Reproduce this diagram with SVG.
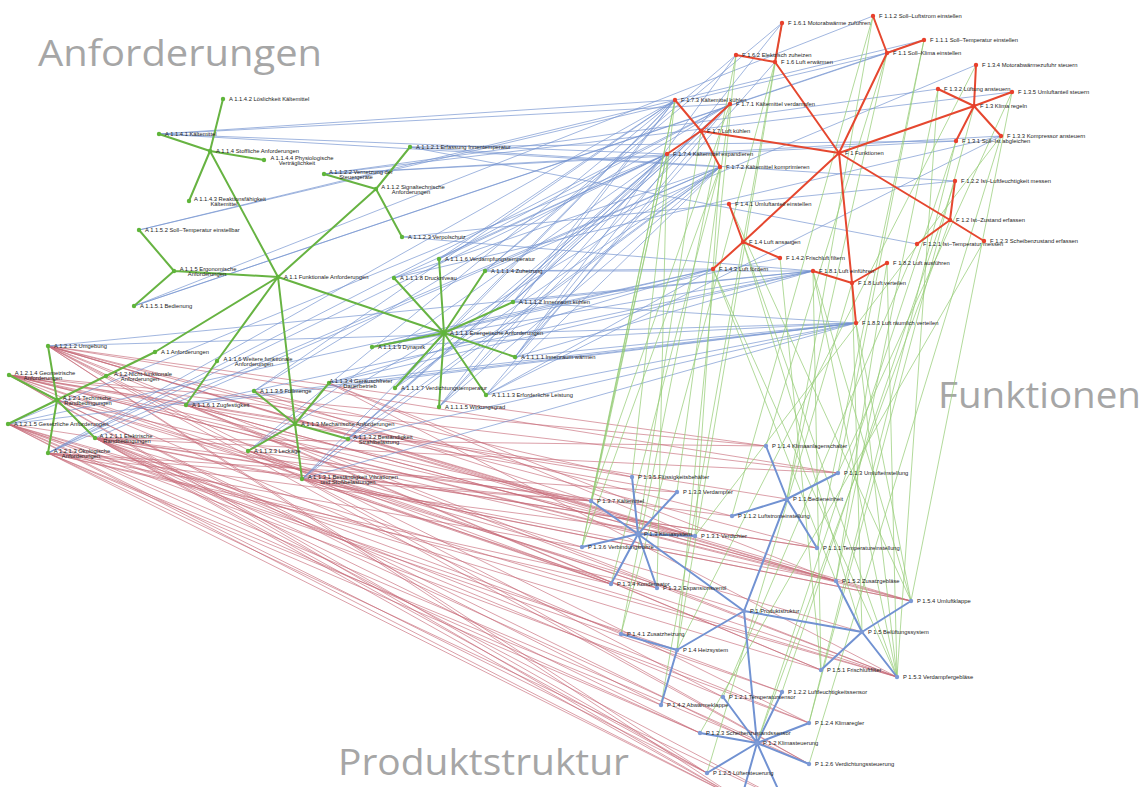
<svg xmlns="http://www.w3.org/2000/svg" width="1148" height="787" viewBox="0 0 1148 787">
<style>
text{font-family:"Liberation Sans",Arial,sans-serif;font-size:5.8px;fill:#222222}
.big{font-family:"Open Sans","Liberation Sans",sans-serif;font-size:37px;fill:#a6a6a6}
.cb{stroke:#7393cf;stroke-width:0.8;fill:none;stroke-opacity:0.85}
.cg{stroke:#94cb74;stroke-width:0.8;fill:none;stroke-opacity:0.9}
.cr{stroke:#c66a78;stroke-width:0.75;fill:none;stroke-opacity:0.85}
.ta{stroke:#67b342;stroke-width:2;fill:none}
.tf{stroke:#e5472f;stroke-width:2;fill:none}
.tp{stroke:#7192d2;stroke-width:2;fill:none}
.na circle{fill:#5fb53a}
.nf circle{fill:#e8402c}
.np circle{fill:#7d9ad6}
.m{text-anchor:middle}
</style>
<rect width="1148" height="787" fill="#ffffff"/>
<text class="big" x="38" y="66" textLength="284" lengthAdjust="spacingAndGlyphs">Anforderungen</text>
<text class="big" x="938" y="408" textLength="203" lengthAdjust="spacingAndGlyphs">Funktionen</text>
<text class="big" x="338" y="775" textLength="291" lengthAdjust="spacingAndGlyphs">Produktstruktur</text>
<g id="connectors">
<path class="cr" d="M48 346L766 446M48 346L838 473M48 346L817 548M48 346L732 516M48 346L695 536M48 346L836 581M48 346L911 601M48 346L897 677M48 346L821 670M48 346L809 723M48 346L809 764M48 346L723 697M48 346L741 800M48 346L707 773
M9 375L766 446M9 375L838 473M9 375L591 501M9 375L695 536M9 375L677 492M9 375L632 477M9 375L611 584M9 375L657 588M9 375L836 581M9 375L911 601M9 375L661 705M9 375L621 634M9 375L787 499M9 375L741 800M9 375L707 773
M8 424L817 548M8 424L821 670M8 424L897 677M8 424L809 723M8 424L809 764M8 424L707 773M8 424L700 733M8 424L677 650M8 424L741 800M8 424L782 692
M48 453L591 501M48 453L582 547M48 453L611 584M48 453L657 588M48 453L695 536M48 453L677 492M48 453L661 705M48 453L741 800M48 453L783 800M48 453L700 733
M95 438L817 548M95 438L732 516M95 438L838 473M95 438L766 446M95 438L723 697M95 438L782 692M95 438L809 723M95 438L809 764M95 438L707 773M95 438L700 733M95 438L911 601M95 438L836 581M95 438L897 677M95 438L783 800M95 438L741 800
M57 400L638 534M57 400L862 632M57 400L744 611M57 400L757 743
M186 405L821 670M186 405L897 677M186 405L911 601M186 405L836 581
M302 479L591 501M302 479L611 584M302 479L897 677M302 479L809 764M302 479L911 601
M248 451L591 501M248 451L582 547M248 451L657 588M248 451L611 584
M254 391L591 501M254 391L632 477
M329 383L695 536M329 383L897 677M329 383L836 581
M348 439L695 536M348 439L836 581"/>
<path class="cb" d="M159 134L675 100M159 134L730 104M159 134L667 154M159 134L720 167
M410 147L917 244M410 147L956 141M410 147L955 181
M324 174L956 141M324 174L1001 136M324 174L938 89M324 174L1012 92
M402 237L955 181M402 237L813 271
M134 306L887 53M134 306L924 40M134 306L873 16
M139 230L924 40M139 230L887 53
M515 357L775 62M515 357L782 23M515 357L736 55M515 357L856 323M515 357L813 271
M513 302L701 131M513 302L675 100M513 302L667 154M513 302L730 104M513 302L856 323M513 302L813 271
M486 395L720 167M486 395L730 104M486 395L1001 136M486 395L856 323M486 395L713 269
M485 271L736 55M485 271L782 23M485 271L976 65M485 271L813 271M485 271L713 269
M439 407L720 167M439 407L667 154M439 407L730 104M439 407L675 100
M439 259L730 104M439 259L675 100M439 259L667 154
M395 388L720 167M395 388L667 154M395 388L675 100
M394 278L720 167M394 278L667 154M394 278L1001 136
M372 347L713 269M372 347L856 323M372 347L813 271M372 347L780 258
M302 479L675 100M302 479L667 154M302 479L720 167M302 479L730 104M302 479L856 323
M348 439L667 154M348 439L720 167M348 439L856 323
M248 451L675 100M248 451L667 154M248 451L720 167
M329 383L713 269M329 383L856 323M329 383L813 271
M254 391L675 100M254 391L730 104
M186 405L856 323M186 405L813 271
M48 453L675 100M48 453L667 154M48 453L730 104M48 453L720 167
M8 424L713 269M8 424L856 323M8 424L667 154
M48 346L813 271M48 346L856 323
M95 438L720 167"/>
<path class="cg" d="M675 100L591 501M675 100L582 547M675 100L632 477
M667 154L657 588M667 154L591 501M667 154L582 547
M730 104L677 492M730 104L591 501
M720 167L695 536M720 167L611 584M720 167L582 547
M701 131L638 534
M736 55L621 634M736 55L677 650
M782 23L661 705M782 23L677 650
M775 62L621 634
M873 16L732 516M873 16L787 499
M924 40L817 548M924 40L838 473
M887 53L766 446M887 53L787 499
M956 141L809 723M956 141L757 743
M938 89L897 677M938 89L836 581
M1001 136L809 764M1001 136L695 536
M976 65L677 650
M1012 92L911 601M1012 92L838 473
M974 106L809 723
M917 244L723 697
M955 181L782 692
M984 241L700 733
M950 220L757 743
M729 204L911 601
M780 258L821 670
M713 269L897 677M713 269L836 581
M743 242L862 632M743 242L897 677
M813 271L897 677M813 271L911 601M813 271L821 670
M887 263L836 581M887 263L897 677
M856 323L897 677M856 323L911 601
M852 283L707 773M852 283L862 632"/>
</g>
<g id="tree-edges">
<path class="ta" d="M155 352L278 277M155 352L106 376M106 376L57 400
M57 400L95 438M57 400L48 346M57 400L48 453M57 400L9 375M57 400L8 424
M278 277L444 333M278 277L376 189M278 277L295 424M278 277L210 151M278 277L174 271M278 277L217 361
M217 361L186 405M174 271L134 306M174 271L139 230
M210 151L159 134M210 151L223 99M210 151L189 201M210 151L264 160
M376 189L410 147M376 189L324 174M376 189L402 237
M444 333L515 357M444 333L513 302M444 333L486 395M444 333L485 271M444 333L439 407M444 333L439 259M444 333L395 388M444 333L394 278M444 333L372 347
M295 424L302 479M295 424L348 439M295 424L248 451M295 424L329 383M295 424L254 391"/>
<path class="tf" d="M839 153L887 53M839 153L950 220M839 153L974 106M839 153L743 242M839 153L775 62M839 153L701 131M839 153L852 283
M887 53L924 40M887 53L873 16
M950 220L917 244M950 220L955 181M950 220L984 241
M974 106L956 141M974 106L938 89M974 106L1001 136M974 106L976 65M974 106L1012 92
M743 242L729 204M743 242L780 258M743 242L713 269
M775 62L782 23M775 62L736 55
M701 131L730 104M701 131L720 167M701 131L675 100M701 131L667 154
M852 283L813 271M852 283L887 263M852 283L856 323"/>
<path class="tp" d="M744 611L787 499M744 611L757 743M744 611L638 534M744 611L677 650M744 611L862 632
M787 499L817 548M787 499L732 516M787 499L838 473M787 499L766 446
M757 743L723 697M757 743L782 692M757 743L700 733M757 743L809 723M757 743L707 773M757 743L809 764M757 743L741 800M757 743L783 800
M638 534L695 536M638 534L657 588M638 534L677 492M638 534L611 584M638 534L632 477M638 534L582 547M638 534L591 501
M677 650L621 634M677 650L661 705
M862 632L821 670M862 632L836 581M862 632L897 677M862 632L911 601"/>
</g>
<g id="anforderungen">
<g id="a1" class="na"><circle cx="155" cy="352" r="2.2"/><text x="161" y="354">A 1 Anforderungen</text></g>
<g id="a11" class="na"><circle cx="278" cy="277" r="2.2"/><text x="284" y="279">A 1.1 Funktionale Anforderungen</text></g>
<g id="a12" class="na"><circle cx="106" cy="376" r="2.2"/><text class="m" y="375.5"><tspan x="143">A 1.2 Nicht-funktionale</tspan><tspan x="140" dy="5.5">Anforderungen</tspan></text></g>
<g id="a111" class="na"><circle cx="444" cy="333" r="2.2"/><text x="450" y="335">A 1.1.1 Energetische Anforderungen</text></g>
<g id="a112" class="na"><circle cx="376" cy="189" r="2.2"/><text class="m" y="188.5"><tspan x="413">A 1.1.2 Signaltechnische</tspan><tspan x="411" dy="5.5">Anforderungen</tspan></text></g>
<g id="a113" class="na"><circle cx="295" cy="424" r="2.2"/><text x="301" y="426">A 1.1.3 Mechanische Anforderungen</text></g>
<g id="a114" class="na"><circle cx="210" cy="151" r="2.2"/><text x="216" y="153">A 1.1.4 Stoffliche Anforderungen</text></g>
<g id="a115" class="na"><circle cx="174" cy="271" r="2.2"/><text class="m" y="270.5"><tspan x="208">A 1.1.5 Ergonomische</tspan><tspan x="207" dy="5.5">Anforderungen</tspan></text></g>
<g id="a116" class="na"><circle cx="217" cy="361" r="2.2"/><text class="m" y="360.5"><tspan x="258">A 1.1.6 Weitere funktionale</tspan><tspan x="254" dy="5.5">Anforderungen</tspan></text></g>
<g id="a1111" class="na"><circle cx="515" cy="357" r="2.2"/><text x="521" y="359">A 1.1.1.1 Innenraum wärmen</text></g>
<g id="a1112" class="na"><circle cx="513" cy="302" r="2.2"/><text x="519" y="304">A 1.1.1.2 Innenraum kühlen</text></g>
<g id="a1113" class="na"><circle cx="486" cy="395" r="2.2"/><text x="492" y="397">A 1.1.1.3 Erforderliche Leistung</text></g>
<g id="a1114" class="na"><circle cx="485" cy="271" r="2.2"/><text x="491" y="273">A 1.1.1.4 Zuheizung</text></g>
<g id="a1115" class="na"><circle cx="439" cy="407" r="2.2"/><text x="445" y="409">A 1.1.1.5 Wirkungsgrad</text></g>
<g id="a1116" class="na"><circle cx="439" cy="259" r="2.2"/><text x="445" y="261">A 1.1.1.6 Verdampfungstemperatur</text></g>
<g id="a1117" class="na"><circle cx="395" cy="388" r="2.2"/><text x="401" y="390">A 1.1.1.7 Verdichtungstemperatur</text></g>
<g id="a1118" class="na"><circle cx="394" cy="278" r="2.2"/><text x="400" y="280">A 1.1.1.8 Druckniveau</text></g>
<g id="a1119" class="na"><circle cx="372" cy="347" r="2.2"/><text x="378" y="349">A 1.1.1.9 Dynamik</text></g>
<g id="a1121" class="na"><circle cx="410" cy="147" r="2.2"/><text x="416" y="149">A 1.1.2.1 Erfassung Innentemperatur</text></g>
<g id="a1122" class="na"><circle cx="324" cy="174" r="2.2"/><text class="m" y="173.5"><tspan x="361">A 1.1.2.2 Vernetzung der</tspan><tspan x="356" dy="5.5">Steuergeräte</tspan></text></g>
<g id="a1123" class="na"><circle cx="402" cy="237" r="2.2"/><text x="408" y="239">A 1.1.2.3 Verpolschutz</text></g>
<g id="a1131" class="na"><circle cx="302" cy="479" r="2.2"/><text class="m" y="478.5"><tspan x="353">A 1.1.3.1 Beständigkeit Vibrationen</tspan><tspan x="348" dy="5.5">und Stoßbelastungen</tspan></text></g>
<g id="a1132" class="na"><circle cx="348" cy="439" r="2.2"/><text class="m" y="438.5"><tspan x="383">A 1.1.3.2 Beständigkeit</tspan><tspan x="379" dy="5.5">Strahlbelastung</tspan></text></g>
<g id="a1133" class="na"><circle cx="248" cy="451" r="2.2"/><text x="254" y="453">A 1.1.3.3 Leckage</text></g>
<g id="a1134" class="na"><circle cx="329" cy="383" r="2.2"/><text class="m" y="382.5"><tspan x="361">A 1.1.3.4 Geräuschfreier</tspan><tspan x="360" dy="5.5">Dauerbetrieb</tspan></text></g>
<g id="a1135" class="na"><circle cx="254" cy="391" r="2.2"/><text x="260" y="393">A 1.1.3.5 Füllmenge</text></g>
<g id="a1141" class="na"><circle cx="159" cy="134" r="2.2"/><text x="165" y="136">A 1.1.4.1 Kältemittel</text></g>
<g id="a1142" class="na"><circle cx="223" cy="99" r="2.2"/><text x="229" y="101">A 1.1.4.2 Löslichkeit Kältemittel</text></g>
<g id="a1143" class="na"><circle cx="189" cy="201" r="2.2"/><text class="m" y="200.5"><tspan x="230">A 1.1.4.3 Reaktionsfähigkeit</tspan><tspan x="224" dy="5.5">Kältemittel</tspan></text></g>
<g id="a1144" class="na"><circle cx="264" cy="160" r="2.2"/><text class="m" y="159.5"><tspan x="302">A 1.1.4.4 Physiologische</tspan><tspan x="297" dy="5.5">Verträglichkeit</tspan></text></g>
<g id="a1151" class="na"><circle cx="134" cy="306" r="2.2"/><text x="140" y="308">A 1.1.5.1 Bedienung</text></g>
<g id="a1152" class="na"><circle cx="139" cy="230" r="2.2"/><text x="145" y="232">A 1.1.5.2 Soll–Temperatur einstellbar</text></g>
<g id="a1161" class="na"><circle cx="186" cy="405" r="2.2"/><text x="192" y="407">A 1.1.6.1 Zugfestigkeit</text></g>
<g id="a121" class="na"><circle cx="57" cy="400" r="2.2"/><text class="m" y="399.5"><tspan x="87">A 1.2.1 Technische</tspan><tspan x="88" dy="5.5">Randbedingungen</tspan></text></g>
<g id="a1211" class="na"><circle cx="95" cy="438" r="2.2"/><text class="m" y="437.5"><tspan x="126">A 1.2.1.1 Elektrische</tspan><tspan x="127" dy="5.5">Randbedingungen</tspan></text></g>
<g id="a1212" class="na"><circle cx="48" cy="346" r="2.2"/><text x="54" y="348">A 1.2.1.2 Umgebung</text></g>
<g id="a1213" class="na"><circle cx="48" cy="453" r="2.2"/><text class="m" y="452.5"><tspan x="82">A 1.2.1.3 Ökologische</tspan><tspan x="81" dy="5.5">Anforderungen</tspan></text></g>
<g id="a1214" class="na"><circle cx="9" cy="375" r="2.2"/><text class="m" y="374.5"><tspan x="45">A 1.2.1.4 Geometrische</tspan><tspan x="43" dy="5.5">Anforderungen</tspan></text></g>
<g id="a1215" class="na"><circle cx="8" cy="424" r="2.2"/><text x="14" y="426">A 1.2.1.5 Gesetzliche Anforderungen</text></g>
</g>
<g id="funktionen">
<g id="f1" class="nf"><circle cx="839" cy="153" r="2.2"/><text x="845" y="155">F 1 Funktionen</text></g>
<g id="f11" class="nf"><circle cx="887" cy="53" r="2.2"/><text x="893" y="55">F 1.1 Soll–Klima einstellen</text></g>
<g id="f111" class="nf"><circle cx="924" cy="40" r="2.2"/><text x="930" y="42">F 1.1.1 Soll–Temperatur einstellen</text></g>
<g id="f112" class="nf"><circle cx="873" cy="16" r="2.2"/><text x="879" y="18">F 1.1.2 Soll–Luftstrom einstellen</text></g>
<g id="f12" class="nf"><circle cx="950" cy="220" r="2.2"/><text x="956" y="222">F 1.2 Ist–Zustand erfassen</text></g>
<g id="f121" class="nf"><circle cx="917" cy="244" r="2.2"/><text x="923" y="246">F 1.2.1 Ist–Temperatur messen</text></g>
<g id="f122" class="nf"><circle cx="955" cy="181" r="2.2"/><text x="961" y="183">F 1.2.2 Ist–Luftfeuchtigkeit messen</text></g>
<g id="f123" class="nf"><circle cx="984" cy="241" r="2.2"/><text x="990" y="243">F 1.2.3 Scheibenzustand erfassen</text></g>
<g id="f13" class="nf"><circle cx="974" cy="106" r="2.2"/><text x="980" y="108">F 1.3 Klima regeln</text></g>
<g id="f131" class="nf"><circle cx="956" cy="141" r="2.2"/><text x="962" y="143">F 1.3.1 Soll–Ist abgleichen</text></g>
<g id="f132" class="nf"><circle cx="938" cy="89" r="2.2"/><text x="944" y="91">F 1.3.2 Lüftung ansteuern</text></g>
<g id="f133" class="nf"><circle cx="1001" cy="136" r="2.2"/><text x="1007" y="138">F 1.3.3 Kompressor ansteuern</text></g>
<g id="f134" class="nf"><circle cx="976" cy="65" r="2.2"/><text x="982" y="67">F 1.3.4 Motorabwärmezufuhr steuern</text></g>
<g id="f135" class="nf"><circle cx="1012" cy="92" r="2.2"/><text x="1018" y="94">F 1.3.5 Umluftanteil steuern</text></g>
<g id="f14" class="nf"><circle cx="743" cy="242" r="2.2"/><text x="749" y="244">F 1.4 Luft ansaugen</text></g>
<g id="f141" class="nf"><circle cx="729" cy="204" r="2.2"/><text x="735" y="206">F 1.4.1 Umluftanteil einstellen</text></g>
<g id="f142" class="nf"><circle cx="780" cy="258" r="2.2"/><text x="786" y="260">F 1.4.2 Frischluft filtern</text></g>
<g id="f143" class="nf"><circle cx="713" cy="269" r="2.2"/><text x="719" y="271">F 1.4.3 Luft fördern</text></g>
<g id="f16" class="nf"><circle cx="775" cy="62" r="2.2"/><text x="781" y="64">F 1.6 Luft erwärmen</text></g>
<g id="f161" class="nf"><circle cx="782" cy="23" r="2.2"/><text x="788" y="25">F 1.6.1 Motorabwärme zuführen</text></g>
<g id="f162" class="nf"><circle cx="736" cy="55" r="2.2"/><text x="742" y="57">F 1.6.2 Elektrisch zuheizen</text></g>
<g id="f17" class="nf"><circle cx="701" cy="131" r="2.2"/><text x="707" y="133">F 1.7 Luft kühlen</text></g>
<g id="f171" class="nf"><circle cx="730" cy="104" r="2.2"/><text x="736" y="106">F 1.7.1 Kältemittel verdampfen</text></g>
<g id="f172" class="nf"><circle cx="720" cy="167" r="2.2"/><text x="726" y="169">F 1.7.2 Kältemittel komprimieren</text></g>
<g id="f173" class="nf"><circle cx="675" cy="100" r="2.2"/><text x="681" y="102">F 1.7.3 Kältemittel kühlen</text></g>
<g id="f174" class="nf"><circle cx="667" cy="154" r="2.2"/><text x="673" y="156">F 1.7.4 Kältemittel expandieren</text></g>
<g id="f18" class="nf"><circle cx="852" cy="283" r="2.2"/><text x="858" y="285">F 1.8 Luft verteilen</text></g>
<g id="f181" class="nf"><circle cx="813" cy="271" r="2.2"/><text x="819" y="273">F 1.8.1 Luft einführen</text></g>
<g id="f182" class="nf"><circle cx="887" cy="263" r="2.2"/><text x="893" y="265">F 1.8.2 Luft ausführen</text></g>
<g id="f183" class="nf"><circle cx="856" cy="323" r="2.2"/><text x="862" y="325">F 1.8.3 Luft räumlich verteilen</text></g>
</g>
<g id="produktstruktur">
<g id="p1" class="np"><circle cx="744" cy="611" r="2.2"/><text x="750" y="613">P 1 Produktstruktur</text></g>
<g id="p11" class="np"><circle cx="787" cy="499" r="2.2"/><text x="793" y="501">P 1.1 Bedieneinheit</text></g>
<g id="p111" class="np"><circle cx="817" cy="548" r="2.2"/><text x="823" y="550">P 1.1.1 Temperatureinstellung</text></g>
<g id="p112" class="np"><circle cx="732" cy="516" r="2.2"/><text x="738" y="518">P 1.1.2 Luftstromeinstellung</text></g>
<g id="p113" class="np"><circle cx="838" cy="473" r="2.2"/><text x="844" y="475">P 1.1.3 Umlufteinstellung</text></g>
<g id="p114" class="np"><circle cx="766" cy="446" r="2.2"/><text x="772" y="448">P 1.1.4 Klimaanlagenschalter</text></g>
<g id="p12" class="np"><circle cx="757" cy="743" r="2.2"/><text x="763" y="745">P 1.2 Klimasteuerung</text></g>
<g id="p121" class="np"><circle cx="723" cy="697" r="2.2"/><text x="729" y="699">P 1.2.1 Temperatursensor</text></g>
<g id="p122" class="np"><circle cx="782" cy="692" r="2.2"/><text x="788" y="694">P 1.2.2 Luftfeuchtigkeitssensor</text></g>
<g id="p123" class="np"><circle cx="700" cy="733" r="2.2"/><text x="706" y="735">P 1.2.3 Scheibenzustandssensor</text></g>
<g id="p124" class="np"><circle cx="809" cy="723" r="2.2"/><text x="815" y="725">P 1.2.4 Klimaregler</text></g>
<g id="p125" class="np"><circle cx="707" cy="773" r="2.2"/><text x="713" y="775">P 1.2.5 Lüftersteuerung</text></g>
<g id="p126" class="np"><circle cx="809" cy="764" r="2.2"/><text x="815" y="766">P 1.2.6 Verdichtungssteuerung</text></g>
<g id="p13" class="np"><circle cx="638" cy="534" r="2.2"/><text x="644" y="536">P 1.3 Klimasystem</text></g>
<g id="p131" class="np"><circle cx="695" cy="536" r="2.2"/><text x="701" y="538">P 1.3.1 Verdichter</text></g>
<g id="p132" class="np"><circle cx="657" cy="588" r="2.2"/><text x="663" y="590">P 1.3.2 Expansionsventil</text></g>
<g id="p133" class="np"><circle cx="677" cy="492" r="2.2"/><text x="683" y="494">P 1.3.3 Verdampfer</text></g>
<g id="p134" class="np"><circle cx="611" cy="584" r="2.2"/><text x="617" y="586">P 1.3.4 Kondensator</text></g>
<g id="p135" class="np"><circle cx="632" cy="477" r="2.2"/><text x="638" y="479">P 1.3.5 Flüssigkeitsbehälter</text></g>
<g id="p136" class="np"><circle cx="582" cy="547" r="2.2"/><text x="588" y="549">P 1.3.6 Verbindungsrohre</text></g>
<g id="p137" class="np"><circle cx="591" cy="501" r="2.2"/><text x="597" y="503">P 1.3.7 Kältemittel</text></g>
<g id="p14" class="np"><circle cx="677" cy="650" r="2.2"/><text x="683" y="652">P 1.4 Heizsystem</text></g>
<g id="p141" class="np"><circle cx="621" cy="634" r="2.2"/><text x="627" y="636">P 1.4.1 Zusatzheizung</text></g>
<g id="p142" class="np"><circle cx="661" cy="705" r="2.2"/><text x="667" y="707">P 1.4.2 Abwärmeklappe</text></g>
<g id="p15" class="np"><circle cx="862" cy="632" r="2.2"/><text x="868" y="634">P 1.5 Belüftungssystem</text></g>
<g id="p151" class="np"><circle cx="821" cy="670" r="2.2"/><text x="827" y="672">P 1.5.1 Frischluftfilter</text></g>
<g id="p152" class="np"><circle cx="836" cy="581" r="2.2"/><text x="842" y="583">P 1.5.2 Zusatzgebläse</text></g>
<g id="p153" class="np"><circle cx="897" cy="677" r="2.2"/><text x="903" y="679">P 1.5.3 Verdampfergebläse</text></g>
<g id="p154" class="np"><circle cx="911" cy="601" r="2.2"/><text x="917" y="603">P 1.5.4 Umluftklappe</text></g>
</g>
</svg>
